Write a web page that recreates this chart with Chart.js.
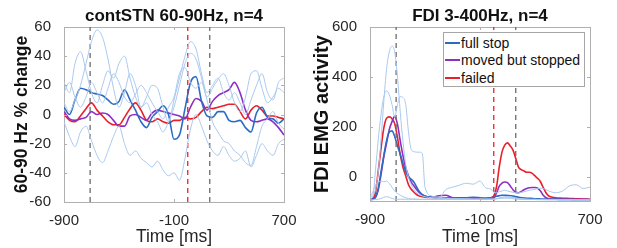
<!DOCTYPE html>
<html><head><meta charset="utf-8">
<script src="https://cdn.jsdelivr.net/npm/chart.js@4.4.1/dist/chart.umd.min.js"></script>
<style>
html,body{margin:0;padding:0;background:#fff;}
#wrap{position:relative;width:617px;height:248px;overflow:hidden;background:#fff;}
canvas{position:absolute;top:0;}
#c1{left:0;}
#c2{left:310px;}
#legend{position:absolute;left:443px;top:32px;width:142px;height:55px;box-sizing:border-box;border:1px solid #a6a6a6;background:#fff;font:14px 'Liberation Sans',Arial,sans-serif;color:#111;padding-top:1px;}
.row{display:flex;align-items:center;height:17.5px;white-space:nowrap;}
.sw{display:inline-block;width:15px;height:2px;margin-left:1px;margin-right:1px;}
</style></head>
<body>
<div id="wrap">
<canvas id="c1" width="310" height="248"></canvas>
<canvas id="c2" width="307" height="248"></canvas>
<div id="legend"></div>
</div>
<script>
// ---------------- data ----------------
const seriesNames = ['full stop', 'moved but stopped', 'failed'];
const eventTimes = [-710, 0, 160];

const leftTime = [-900,-860,-820,-780,-740,-700,-660,-620,-580,-540,-500,-460,-420,-380,-340,-300,-260,-220,-180,-140,-100,-60,-20,20,60,100,140,180,220,260,300,340,380,420,460,500,540,580,620,660,700];
const leftBlue   = [5,0,10,18,17,15,14,13,10,7,9,17,10,3,-5,-9,-2,2,6,0,-17,-14,4,22,26,9,-1,-2,2,2,-4,-5,-4,-9,-12,1,5,-2,-3,-6,-3];
const leftPurple = [2,-3,-4,-3,-2,2,0,1,0,-4,-8,-8,-1,0,-2,-4,1,3,2,1,0,-1,-3,5,11,9,3,9,13,15,17,22,15,3,-4,-5,-4,-3,-5,-9,-14];
const leftRed    = [0,-4,-5,-1,4,8,3,-1,-5,-7,-7,-2,4,8,3,-4,-5,-3,-5,-6,-4,-4,-2,-3,-2,2,5,4,5,6,7,7,2,-3,3,6,3,-1,-1,-2,-3];
const leftSubj1  = [8,2,10,20,35,50,58,53,38,18,5,15,28,20,5,12,20,18,5,-5,10,25,40,50,45,28,15,20,25,15,10,15,8,0,10,20,28,15,10,22,25];
const leftSubj2  = [-5,-15,-22,-12,-8,-18,-28,-33,-25,-15,-8,-20,-28,-25,-30,-33,-36,-32,-38,-42,-40,-45,-30,-10,0,-8,-18,-25,-28,-22,-28,-32,-30,-25,-36,-28,-20,-25,-28,-20,-17];
const leftSubj3  = [22,15,35,43,30,15,8,20,30,25,35,40,25,12,5,8,0,-5,-12,-5,5,20,35,42,38,25,10,-5,-12,-18,-20,-25,-28,-33,-35,-22,-8,-3,2,-6,-10];
const leftSubj4  = [15,22,12,5,12,22,15,8,18,28,22,12,8,14,20,15,8,2,-3,5,12,28,32,22,18,22,12,18,24,28,20,8,2,12,28,30,18,8,12,18,15];
const leftYTicks = [-60,-40,-20,0,20,40,60];

const rightTime = [-900,-880,-860,-840,-820,-800,-780,-760,-740,-720,-700,-680,-660,-640,-620,-600,-580,-560,-540,-520,-500,
  -450,-400,-350,-300,-250,-200,-150,-100,-60,-20,
  0,20,40,60,80,100,120,140,160,180,200,220,240,260,280,300,320,340,360,380,400,
  450,500,550,600,650,700];
const rightBlue = [-90,-88,-80,-45,20,85,145,180,185,162,125,92,55,22,2,-8,-20,-40,-58,-70,-76,
  -80,-82,-83,-84,-83,-82,-80,-82,-84,-82,
  -80,-76,-74,-72,-72,-73,-74,-75,-77,-80,-82,-83,-84,-84,-85,-86,-86,-87,-87,-88,-88,
  -88,-89,-89,-90,-90,-90];
const rightPurple = [-88,-86,-80,-50,10,80,135,190,222,243,211,145,85,38,5,-20,-35,-50,-62,-70,-75,
  -80,-74,-72,-82,-84,-85,-86,-87,-87,-86,
  -82,-64,-36,-24,-19,-22,-35,-50,-60,-62,-57,-50,-45,-42,-41,-41,-44,-55,-72,-82,-86,
  -87,-87,-88,-88,-88,-89];
const rightRed = [-88,-85,-60,25,115,195,235,241,234,213,158,90,40,5,-30,-48,-60,-70,-75,-78,-80,
  -81,-82,-83,-84,-83,-84,-84,-85,-84,-82,
  -75,-39,40,100,128,137,125,108,75,40,30,25,20,20,15,5,-5,-18,-42,-62,-75,
  -82,-84,-85,-86,-87,-88];
const rightSubj1 = [-80,-75,-50,20,150,300,430,500,524,500,400,260,140,50,0,-30,-50,-62,-70,-75,-78,
  -82,-84,-85,-86,-87,-87,-88,-88,-88,-88,
  -88,-86,-84,-82,-80,-80,-80,-82,-85,-87,-88,-88,-89,-89,-89,-89,-90,-90,-90,-90,-90,
  -90,-91,-91,-91,-92,-92];
const rightSubj2 = [-85,-80,30,150,250,320,345,330,290,240,290,322,318,290,180,110,102,100,100,95,-40,
  -75,-80,-84,-85,-86,-86,-87,-87,-87,-87,
  -87,-86,-85,-84,-84,-84,-85,-86,-87,-88,-88,-88,-88,-89,-89,-89,-89,-89,-89,-90,-90,
  -90,-90,-90,-91,-91,-91];
const rightSubj3 = [-85,-60,-30,-20,-15,-18,-15,-25,-40,-55,-65,-72,-78,-82,-85,-87,-88,-88,-89,-89,-89,
  -89,-89,-89,-89,-89,-89,-89,-89,-89,-89,
  -88,-86,-83,-80,-78,-78,-79,-81,-83,-85,-86,-87,-88,-88,-88,-88,-89,-89,-89,-89,-89,
  -89,-90,-90,-90,-90,-90];
const rightSubj4 = [-90,-90,-89,-88,-85,-80,-78,-80,-85,-87,-88,-88,-88,-88,-88,-88,-88,-88,-88,-88,-88,
  -88,-86,-50,-40,-32,-24,-28,-15,-42,-48,
  -60,-62,-58,-55,-52,-55,-58,-60,-62,-62,-60,-58,-55,-52,-50,-48,-45,-44,-45,-50,-55,
  -62,-55,-35,-30,-45,-40];
const rightYTicks = [0,200,400,600];
const xTicks = [-900,-100,700];

// ---------------- style ----------------
const FONT = "'Liberation Sans', Arial, sans-serif";
const AXIS = '#b0b0b0';
const TXT = '#262626';
const C_BLUE = '#2a6cc4', C_PURPLE = '#8e2fc4', C_RED = '#e8202a', C_THIN = '#a9c8ee', C_GRAY = '#6b6b6b';
const seriesColors = [C_BLUE, C_PURPLE, C_RED];

Chart.defaults.font.family = FONT;
Chart.defaults.color = TXT;

const inwardTicks = {
  id: 'inwardTicks',
  afterDatasetsDraw(chart) {
    const {ctx, chartArea: a, scales} = chart;
    ctx.save();
    ctx.strokeStyle = AXIS; ctx.lineWidth = 1;
    ctx.beginPath();
    scales.x.ticks.forEach(t => {
      const p = Math.round(scales.x.getPixelForValue(t.value)) + 0.5;
      ctx.moveTo(p, a.bottom); ctx.lineTo(p, a.bottom - 3);
      ctx.moveTo(p, a.top); ctx.lineTo(p, a.top + 3);
    });
    scales.y.ticks.forEach(t => {
      const p = Math.round(scales.y.getPixelForValue(t.value)) + 0.5;
      ctx.moveTo(a.left, p); ctx.lineTo(a.left + 3, p);
      ctx.moveTo(a.right, p); ctx.lineTo(a.right - 3, p);
    });
    ctx.stroke();
    ctx.restore();
  }
};

function line(time, vals, color, width) {
  return {data: vals.map((v, i) => ({x: time[i], y: v})), borderColor: color, borderWidth: width,
          pointRadius: 0, fill: false, cubicInterpolationMode: 'monotone'};
}
function vline(t, color, ymin, ymax) {
  return {data: [{x: t, y: ymin}, {x: t, y: ymax}], borderColor: color, borderWidth: 1.3,
          borderDash: [5, 4], pointRadius: 0, fill: false};
}

function makeChart(id, o) {
  const ds = [];
  o.thin.forEach(v => ds.push(line(o.time, v, C_THIN, 1)));
  eventTimes.forEach((t, i) => ds.push(vline(t, i === 1 ? C_RED : C_GRAY, o.ymin, o.ymax)));
  o.main.forEach((v, i) => ds.push(line(o.time, v, seriesColors[i], 1.6)));
  return new Chart(document.getElementById(id), {
    type: 'line',
    data: {datasets: ds},
    options: {
      responsive: false, animation: false, devicePixelRatio: 1,
      layout: {padding: 0},
      plugins: {legend: {display: false}, tooltip: {enabled: false}},
      scales: {
        x: {type: 'linear', position: 'bottom', min: -900, max: 700,
            afterBuildTicks: s => { s.ticks = xTicks.map(v => ({value: v})); },
            afterFit: s => { s.height = o.xH; },
            grid: {display: false}, border: {display: true, color: AXIS, width: 1},
            ticks: {font: {size: 15}, color: TXT, padding: 2, maxRotation: 0, autoSkip: false},
            title: {display: true, text: 'Time [ms]', font: {size: 17.5}, color: TXT, padding: {top: 0, bottom: 0}}},
        xTop: {type: 'linear', position: 'top', min: -900, max: 700,
            afterFit: s => { s.height = 27; },
            grid: {display: false}, border: {display: true, color: AXIS, width: 1},
            ticks: {display: false},
            title: {display: true, text: o.title, font: {size: 17, weight: 'bold'}, color: '#111', padding: {top: 6, bottom: 0}}},
        y: {type: 'linear', position: 'left', min: o.ymin, max: o.ymax,
            afterBuildTicks: s => { s.ticks = o.yTicks.map(v => ({value: v})); },
            afterFit: s => { s.width = o.yW; },
            grid: {display: false}, border: {display: true, color: AXIS, width: 1},
            ticks: {font: {size: 15}, color: TXT, padding: 5},
            title: {display: true, text: o.ylabel, font: {size: o.ylabelSize, weight: 'bold'}, color: '#111', padding: {top: o.ylabelPad, bottom: 0}}},
        yRight: {type: 'linear', position: 'right', min: o.ymin, max: o.ymax,
            afterFit: s => { s.width = o.rW; },
            grid: {display: false}, border: {display: true, color: AXIS, width: 1},
            ticks: {display: false}}
      }
    },
    plugins: [inwardTicks]
  });
}

makeChart('c1', {time: leftTime, thin: [leftSubj1, leftSubj2, leftSubj3, leftSubj4],
  main: [leftBlue, leftPurple, leftRed], ymin: -60, ymax: 60, yTicks: leftYTicks,
  title: 'contSTN 60-90Hz, n=4', ylabel: '60-90 Hz % change', ylabelSize: 17.5, ylabelPad: 12,
  xH: 46, yW: 64, rW: 26});
makeChart('c2', {time: rightTime, thin: [rightSubj1, rightSubj2, rightSubj3, rightSubj4],
  main: [rightBlue, rightPurple, rightRed], ymin: -95, ymax: 600, yTicks: rightYTicks,
  title: 'FDI 3-400Hz, n=4', ylabel: 'FDI EMG activity', ylabelSize: 20, ylabelPad: 0,
  xH: 47, yW: 60, rW: 27});

// legend (HTML overlay)
const lg = document.getElementById('legend');
seriesNames.forEach((n, i) => {
  const r = document.createElement('div'); r.className = 'row';
  const sw = document.createElement('span'); sw.className = 'sw'; sw.style.background = seriesColors[i];
  const tx = document.createElement('span'); tx.textContent = n;
  r.appendChild(sw); r.appendChild(tx); lg.appendChild(r);
});
</script>
</body></html>
